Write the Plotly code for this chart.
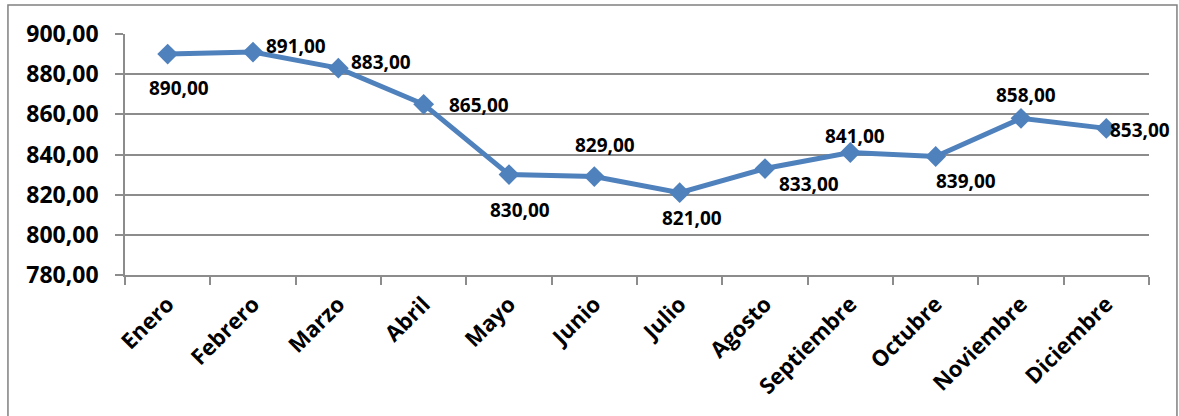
import plotly.graph_objects as go

months = ["Enero", "Febrero", "Marzo", "Abril", "Mayo", "Junio", "Julio",
          "Agosto", "Septiembre", "Octubre", "Noviembre", "Diciembre"]
values = [890, 891, 883, 865, 830, 829, 821, 833, 841, 839, 858, 853]
y_ticks = [780, 800, 820, 840, 860, 880, 900]

# label offsets (px) relative to each point: right, down
label_dx = [11, 43, 43, 55, 11, 11, 12, 44, 5, 30, 5, 34]
label_dy = [34, -6, -6, 1, 35, -32, 25, 15, -16, 24, -23, 2]

def fmt(v):
    return f"{v:,.2f}".replace(",", "X").replace(".", ",").replace("X", ".")

FONT = "Open Sans"
BLUE = "#4F81BD"
GRID = "#8c8c8c"

fig = go.Figure()
fig.add_trace(go.Scatter(
    x=months, y=values, mode="lines+markers",
    line=dict(color=BLUE, width=5),
    marker=dict(symbol="diamond", size=16, color=BLUE),
    showlegend=False, hoverinfo="skip",
))

for m, v, dx, dy in zip(months, values, label_dx, label_dy):
    fig.add_annotation(
        x=m, y=v, text=fmt(v), showarrow=False,
        xshift=dx, yshift=-dy,
        font=dict(family=FONT, size=19, color="black", weight="bold"),
    )

# outer frame
fig.add_shape(type="rect", xref="paper", yref="paper",
              x0=-0.1143, x1=1.0273, y0=-0.62, y1=1.12,
              line=dict(color="#808080", width=1.5), layer="below")

fig.update_layout(
    width=1179, height=416,
    margin=dict(l=125, r=30, t=34, b=141),
    paper_bgcolor="white", plot_bgcolor="white",
    font=dict(family=FONT, color="black"),
    xaxis=dict(
        type="category", showgrid=False, showline=True,
        linecolor=GRID, linewidth=1.5,
        ticks="outside", tickson="boundaries", ticklen=8,
        tickcolor=GRID, tickwidth=1.5,
        tickangle=-45,
        tickfont=dict(family=FONT, size=22, color="black", weight="bold"),
        ticklabelstandoff=6,
        range=[-0.5, 11.5], fixedrange=True,
    ),
    yaxis=dict(
        range=[780, 900], tickvals=y_ticks,
        ticktext=[fmt(v) for v in y_ticks],
        showgrid=True, gridcolor=GRID, gridwidth=1.5,
        showline=True, linecolor=GRID, linewidth=1.5,
        ticks="outside", ticklen=8, tickcolor=GRID, tickwidth=1.5,
        tickfont=dict(family=FONT, size=23, color="black", weight="bold"),
        ticklabelstandoff=12,
        zeroline=False, fixedrange=True,
    ),
)

fig.write_html(
    "out.html",
    config={"displayModeBar": False},
    post_script="document.body.style.margin='0';document.body.style.overflow='hidden';",
)
